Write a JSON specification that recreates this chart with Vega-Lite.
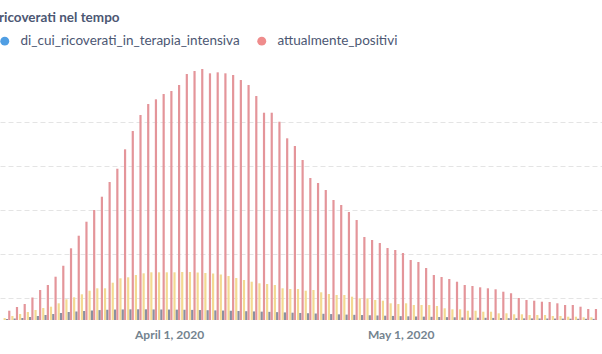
{
  "$schema": "https://vega.github.io/schema/vega-lite/v6.json",
  "width": 602,
  "height": 260,
  "autosize": "none",
  "padding": {"top": 60, "left": 0, "right": 0, "bottom": 34},
  "title": {"text": "ricoverati nel tempo", "anchor": "start", "frame": "group", "offset": 10, "font": "Lato", "fontSize": 13.5, "fontWeight": 700, "color": "#4C5773", "dx": -1},
  "config": {"view": {"stroke": null}, "font": "Lato"},
  "data": {"values": [
    {"date": "2020-03-11", "ricoverati_con_sintomi": 182, "di_cui_ricoverati_in_terapia_intensiva": 91, "attualmente_positivi": 845},
    {"date": "2020-03-12", "ricoverati_con_sintomi": 364, "di_cui_ricoverati_in_terapia_intensiva": 136, "attualmente_positivi": 1182},
    {"date": "2020-03-13", "ricoverati_con_sintomi": 545, "di_cui_ricoverati_in_terapia_intensiva": 182, "attualmente_positivi": 1454},
    {"date": "2020-03-14", "ricoverati_con_sintomi": 727, "di_cui_ricoverati_in_terapia_intensiva": 273, "attualmente_positivi": 2045},
    {"date": "2020-03-15", "ricoverati_con_sintomi": 909, "di_cui_ricoverati_in_terapia_intensiva": 364, "attualmente_positivi": 2727},
    {"date": "2020-03-16", "ricoverati_con_sintomi": 1091, "di_cui_ricoverati_in_terapia_intensiva": 455, "attualmente_positivi": 3182},
    {"date": "2020-03-17", "ricoverati_con_sintomi": 1209, "di_cui_ricoverati_in_terapia_intensiva": 545, "attualmente_positivi": 3936},
    {"date": "2020-03-18", "ricoverati_con_sintomi": 1518, "di_cui_ricoverati_in_terapia_intensiva": 636, "attualmente_positivi": 4936},
    {"date": "2020-03-19", "ricoverati_con_sintomi": 1882, "di_cui_ricoverati_in_terapia_intensiva": 727, "attualmente_positivi": 6518},
    {"date": "2020-03-20", "ricoverati_con_sintomi": 2063, "di_cui_ricoverati_in_terapia_intensiva": 773, "attualmente_positivi": 7663},
    {"date": "2020-03-21", "ricoverati_con_sintomi": 2336, "di_cui_ricoverati_in_terapia_intensiva": 818, "attualmente_positivi": 8935},
    {"date": "2020-03-22", "ricoverati_con_sintomi": 2663, "di_cui_ricoverati_in_terapia_intensiva": 864, "attualmente_positivi": 10000},
    {"date": "2020-03-23", "ricoverati_con_sintomi": 2882, "di_cui_ricoverati_in_terapia_intensiva": 900, "attualmente_positivi": 11208},
    {"date": "2020-03-24", "ricoverati_con_sintomi": 2882, "di_cui_ricoverati_in_terapia_intensiva": 930, "attualmente_positivi": 12544},
    {"date": "2020-03-25", "ricoverati_con_sintomi": 3391, "di_cui_ricoverati_in_terapia_intensiva": 950, "attualmente_positivi": 13753},
    {"date": "2020-03-26", "ricoverati_con_sintomi": 3791, "di_cui_ricoverati_in_terapia_intensiva": 960, "attualmente_positivi": 15517},
    {"date": "2020-03-27", "ricoverati_con_sintomi": 3881, "di_cui_ricoverati_in_terapia_intensiva": 970, "attualmente_positivi": 17180},
    {"date": "2020-03-28", "ricoverati_con_sintomi": 4091, "di_cui_ricoverati_in_terapia_intensiva": 975, "attualmente_positivi": 18635},
    {"date": "2020-03-29", "ricoverati_con_sintomi": 4245, "di_cui_ricoverati_in_terapia_intensiva": 970, "attualmente_positivi": 19634},
    {"date": "2020-03-30", "ricoverati_con_sintomi": 4336, "di_cui_ricoverati_in_terapia_intensiva": 960, "attualmente_positivi": 20062},
    {"date": "2020-03-31", "ricoverati_con_sintomi": 4336, "di_cui_ricoverati_in_terapia_intensiva": 955, "attualmente_positivi": 20543},
    {"date": "2020-04-01", "ricoverati_con_sintomi": 4336, "di_cui_ricoverati_in_terapia_intensiva": 950, "attualmente_positivi": 20816},
    {"date": "2020-04-02", "ricoverati_con_sintomi": 4336, "di_cui_ricoverati_in_terapia_intensiva": 940, "attualmente_positivi": 21362},
    {"date": "2020-04-03", "ricoverati_con_sintomi": 4363, "di_cui_ricoverati_in_terapia_intensiva": 930, "attualmente_positivi": 22361},
    {"date": "2020-04-04", "ricoverati_con_sintomi": 4363, "di_cui_ricoverati_in_terapia_intensiva": 920, "attualmente_positivi": 22634},
    {"date": "2020-04-05", "ricoverati_con_sintomi": 4318, "di_cui_ricoverati_in_terapia_intensiva": 905, "attualmente_positivi": 22816},
    {"date": "2020-04-06", "ricoverati_con_sintomi": 4272, "di_cui_ricoverati_in_terapia_intensiva": 890, "attualmente_positivi": 22425},
    {"date": "2020-04-07", "ricoverati_con_sintomi": 4227, "di_cui_ricoverati_in_terapia_intensiva": 875, "attualmente_positivi": 22516},
    {"date": "2020-04-08", "ricoverati_con_sintomi": 4136, "di_cui_ricoverati_in_terapia_intensiva": 860, "attualmente_positivi": 22425},
    {"date": "2020-04-09", "ricoverati_con_sintomi": 4000, "di_cui_ricoverati_in_terapia_intensiva": 840, "attualmente_positivi": 22271},
    {"date": "2020-04-10", "ricoverati_con_sintomi": 3818, "di_cui_ricoverati_in_terapia_intensiva": 820, "attualmente_positivi": 21816},
    {"date": "2020-04-11", "ricoverati_con_sintomi": 3636, "di_cui_ricoverati_in_terapia_intensiva": 800, "attualmente_positivi": 21362},
    {"date": "2020-04-12", "ricoverati_con_sintomi": 3481, "di_cui_ricoverati_in_terapia_intensiva": 780, "attualmente_positivi": 20362},
    {"date": "2020-04-13", "ricoverati_con_sintomi": 3336, "di_cui_ricoverati_in_terapia_intensiva": 760, "attualmente_positivi": 18844},
    {"date": "2020-04-14", "ricoverati_con_sintomi": 3272, "di_cui_ricoverati_in_terapia_intensiva": 740, "attualmente_positivi": 18844},
    {"date": "2020-04-15", "ricoverati_con_sintomi": 3182, "di_cui_ricoverati_in_terapia_intensiva": 715, "attualmente_positivi": 18025},
    {"date": "2020-04-16", "ricoverati_con_sintomi": 2882, "di_cui_ricoverati_in_terapia_intensiva": 690, "attualmente_positivi": 16517},
    {"date": "2020-04-17", "ricoverati_con_sintomi": 2818, "di_cui_ricoverati_in_terapia_intensiva": 665, "attualmente_positivi": 15817},
    {"date": "2020-04-18", "ricoverati_con_sintomi": 2818, "di_cui_ricoverati_in_terapia_intensiva": 640, "attualmente_positivi": 14544},
    {"date": "2020-04-19", "ricoverati_con_sintomi": 2663, "di_cui_ricoverati_in_terapia_intensiva": 615, "attualmente_positivi": 12908},
    {"date": "2020-04-20", "ricoverati_con_sintomi": 2727, "di_cui_ricoverati_in_terapia_intensiva": 590, "attualmente_positivi": 12453},
    {"date": "2020-04-21", "ricoverati_con_sintomi": 2518, "di_cui_ricoverati_in_terapia_intensiva": 565, "attualmente_positivi": 11817},
    {"date": "2020-04-22", "ricoverati_con_sintomi": 2363, "di_cui_ricoverati_in_terapia_intensiva": 540, "attualmente_positivi": 10908},
    {"date": "2020-04-23", "ricoverati_con_sintomi": 2273, "di_cui_ricoverati_in_terapia_intensiva": 515, "attualmente_positivi": 10454},
    {"date": "2020-04-24", "ricoverati_con_sintomi": 2273, "di_cui_ricoverati_in_terapia_intensiva": 490, "attualmente_positivi": 9817},
    {"date": "2020-04-25", "ricoverati_con_sintomi": 2118, "di_cui_ricoverati_in_terapia_intensiva": 470, "attualmente_positivi": 9090},
    {"date": "2020-04-26", "ricoverati_con_sintomi": 1973, "di_cui_ricoverati_in_terapia_intensiva": 450, "attualmente_positivi": 7545},
    {"date": "2020-04-27", "ricoverati_con_sintomi": 1973, "di_cui_ricoverati_in_terapia_intensiva": 430, "attualmente_positivi": 7272},
    {"date": "2020-04-28", "ricoverati_con_sintomi": 1818, "di_cui_ricoverati_in_terapia_intensiva": 410, "attualmente_positivi": 6999},
    {"date": "2020-04-29", "ricoverati_con_sintomi": 1754, "di_cui_ricoverati_in_terapia_intensiva": 390, "attualmente_positivi": 6545},
    {"date": "2020-04-30", "ricoverati_con_sintomi": 1518, "di_cui_ricoverati_in_terapia_intensiva": 370, "attualmente_positivi": 6363},
    {"date": "2020-05-01", "ricoverati_con_sintomi": 1454, "di_cui_ricoverati_in_terapia_intensiva": 350, "attualmente_positivi": 6090},
    {"date": "2020-05-02", "ricoverati_con_sintomi": 1518, "di_cui_ricoverati_in_terapia_intensiva": 335, "attualmente_positivi": 5454},
    {"date": "2020-05-03", "ricoverati_con_sintomi": 1364, "di_cui_ricoverati_in_terapia_intensiva": 320, "attualmente_positivi": 5272},
    {"date": "2020-05-04", "ricoverati_con_sintomi": 1364, "di_cui_ricoverati_in_terapia_intensiva": 305, "attualmente_positivi": 4727},
    {"date": "2020-05-05", "ricoverati_con_sintomi": 1364, "di_cui_ricoverati_in_terapia_intensiva": 290, "attualmente_positivi": 4091},
    {"date": "2020-05-06", "ricoverati_con_sintomi": 1273, "di_cui_ricoverati_in_terapia_intensiva": 275, "attualmente_positivi": 3909},
    {"date": "2020-05-07", "ricoverati_con_sintomi": 1064, "di_cui_ricoverati_in_terapia_intensiva": 260, "attualmente_positivi": 3727},
    {"date": "2020-05-08", "ricoverati_con_sintomi": 973, "di_cui_ricoverati_in_terapia_intensiva": 245, "attualmente_positivi": 3481},
    {"date": "2020-05-09", "ricoverati_con_sintomi": 973, "di_cui_ricoverati_in_terapia_intensiva": 230, "attualmente_positivi": 3182},
    {"date": "2020-05-10", "ricoverati_con_sintomi": 845, "di_cui_ricoverati_in_terapia_intensiva": 220, "attualmente_positivi": 3091},
    {"date": "2020-05-11", "ricoverati_con_sintomi": 845, "di_cui_ricoverati_in_terapia_intensiva": 210, "attualmente_positivi": 2972},
    {"date": "2020-05-12", "ricoverati_con_sintomi": 754, "di_cui_ricoverati_in_terapia_intensiva": 200, "attualmente_positivi": 2882},
    {"date": "2020-05-13", "ricoverati_con_sintomi": 754, "di_cui_ricoverati_in_terapia_intensiva": 190, "attualmente_positivi": 2791},
    {"date": "2020-05-14", "ricoverati_con_sintomi": 609, "di_cui_ricoverati_in_terapia_intensiva": 180, "attualmente_positivi": 2572},
    {"date": "2020-05-15", "ricoverati_con_sintomi": 609, "di_cui_ricoverati_in_terapia_intensiva": 170, "attualmente_positivi": 2427},
    {"date": "2020-05-16", "ricoverati_con_sintomi": 518, "di_cui_ricoverati_in_terapia_intensiva": 160, "attualmente_positivi": 2000},
    {"date": "2020-05-17", "ricoverati_con_sintomi": 518, "di_cui_ricoverati_in_terapia_intensiva": 150, "attualmente_positivi": 1818},
    {"date": "2020-05-18", "ricoverati_con_sintomi": 455, "di_cui_ricoverati_in_terapia_intensiva": 145, "attualmente_positivi": 1754},
    {"date": "2020-05-19", "ricoverati_con_sintomi": 455, "di_cui_ricoverati_in_terapia_intensiva": 140, "attualmente_positivi": 1663},
    {"date": "2020-05-20", "ricoverati_con_sintomi": 455, "di_cui_ricoverati_in_terapia_intensiva": 135, "attualmente_positivi": 1636},
    {"date": "2020-05-21", "ricoverati_con_sintomi": 364, "di_cui_ricoverati_in_terapia_intensiva": 130, "attualmente_positivi": 1518},
    {"date": "2020-05-22", "ricoverati_con_sintomi": 364, "di_cui_ricoverati_in_terapia_intensiva": 125, "attualmente_positivi": 1364},
    {"date": "2020-05-23", "ricoverati_con_sintomi": 300, "di_cui_ricoverati_in_terapia_intensiva": 120, "attualmente_positivi": 1364},
    {"date": "2020-05-24", "ricoverati_con_sintomi": 300, "di_cui_ricoverati_in_terapia_intensiva": 115, "attualmente_positivi": 1209},
    {"date": "2020-05-25", "ricoverati_con_sintomi": 245, "di_cui_ricoverati_in_terapia_intensiva": 110, "attualmente_positivi": 1000},
    {"date": "2020-05-26", "ricoverati_con_sintomi": 245, "di_cui_ricoverati_in_terapia_intensiva": 105, "attualmente_positivi": 1000}
  ]},
  "encoding": {
    "x": {
      "field": "date", "type": "temporal",
      "scale": {"type": "utc", "domain": [
        {"year": 2020, "month": 3, "date": 10, "hours": 17, "minutes": 53, "utc": true},
        {"year": 2020, "month": 5, "date": 26, "hours": 10, "minutes": 23, "utc": true}
      ]},
      "axis": {
        "title": null,
        "values": [
          {"year": 2020, "month": 4, "date": 1, "utc": true},
          {"year": 2020, "month": 5, "date": 1, "utc": true}
        ],
        "format": "%B %-d, %Y",
        "labelFont": "Lato", "labelFontSize": 12, "labelFontWeight": 700, "labelColor": "#74838F",
        "labelPadding": 9, "ticks": false, "domain": false, "grid": false, "labelFlush": false
      }
    }
  },
  "layer": [
    {
      "mark": {"type": "bar", "width": 2.2, "xOffset": -2.3, "color": "#F3DA92"},
      "encoding": {
        "y": {
          "field": "ricoverati_con_sintomi", "type": "quantitative",
          "scale": {"domain": [0, 23636], "nice": false},
          "axis": {
            "title": null, "labels": false, "ticks": false, "domain": false,
            "values": [2000, 4000, 6000, 8000, 10000, 12000, 14000, 16000, 18000, 20000],
            "grid": true, "gridColor": "#E4E4E4", "gridDash": [5, 3], "gridWidth": 1
          }
        }
      }
    },
    {
      "mark": {"type": "bar", "width": 2.2, "xOffset": 0, "color": "#8A90A0"},
      "encoding": {"y": {"field": "di_cui_ricoverati_in_terapia_intensiva", "type": "quantitative"}}
    },
    {
      "mark": {"type": "bar", "width": 2.2, "xOffset": 2.3, "color": "#E4959A"},
      "encoding": {"y": {"field": "attualmente_positivi", "type": "quantitative"}}
    },
    {
      "transform": [{"fold": ["di_cui_ricoverati_in_terapia_intensiva", "attualmente_positivi"], "as": ["serie", "valore"]}],
      "mark": {"type": "point", "filled": true, "opacity": 0},
      "encoding": {
        "y": {"field": "valore", "type": "quantitative"},
        "color": {
          "field": "serie", "type": "nominal",
          "scale": {"domain": ["di_cui_ricoverati_in_terapia_intensiva", "attualmente_positivi"], "range": ["#509EE3", "#EF8C8C"]},
          "legend": {
            "title": null, "orient": "none", "direction": "horizontal",
            "legendX": -2, "legendY": -26, "padding": 0,
            "symbolType": "circle", "symbolSize": 80, "symbolOpacity": 1, "symbolStrokeWidth": 0,
            "labelFont": "Lato", "labelFontSize": 13.5, "labelColor": "#4C5773", "labelOffset": 9,
            "labelLimit": 400, "columnPadding": 15
          }
        }
      }
    }
  ]
}
